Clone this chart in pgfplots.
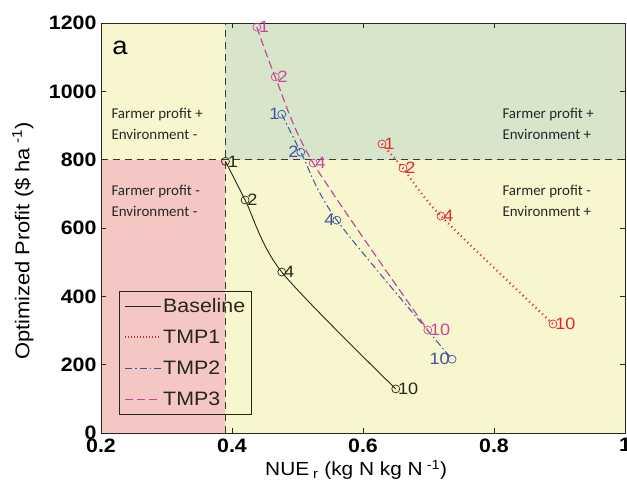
\documentclass[border=0pt]{standalone}
\usepackage{pgfplots}
\pgfplotsset{compat=1.18}
\usepackage{fontspec}
\setmainfont{Liberation Sans}[FakeStretch=1.1]
\newfontfamily\calfont{Carlito}
\definecolor{cbase}{HTML}{262619}
\definecolor{ctmpone}{HTML}{E3262B}
\definecolor{ctmptwo}{HTML}{3F51A3}
\definecolor{ctmpthree}{HTML}{C8479A}
\definecolor{bgred}{HTML}{F4C7C4}
\definecolor{bgyel}{HTML}{F8F6CE}
\definecolor{bggrn}{HTML}{D7E6CB}
\definecolor{cdash}{HTML}{3A3A30}
\begin{document}
\begin{tikzpicture}
\useasboundingbox (-101bp,-54bp) rectangle (526bp,433bp);
\begin{axis}[
  at={(0,0)}, anchor=south west,
  scale only axis, width=524bp, height=410bp,
  xmin=0.2, xmax=1, ymin=0, ymax=1200,
  xtick={0.2,0.4,0.6,0.8,1}, ytick={0,200,400,600,800,1000,1200},
  xticklabels={0.2,0.4,0.6,0.8,1},
  /pgf/number format/1000 sep={},
  /pgf/number format/assume math mode=true,
  tick align=inside, major tick length=5bp,
  tick style={cbase, line width=0.6pt},
  axis line style={cbase, line width=0.8pt},
  axis on top,
  tick label style={font=\fontsize{19.5}{22}\selectfont\bfseries},
  xticklabel style={yshift=-2bp},
  yticklabel style={xshift=-1bp},
  every axis y label/.style={at={(axis description cs:-0.149,0.468)}, rotate=90, anchor=center, font=\fontsize{20}{24}\selectfont},
  every axis x label/.style={at={(axis description cs:0.487,-0.09)}, anchor=center, font=\fontsize{19}{24}\selectfont},
  xlabel={NUE\textsubscript{ r} (kg N kg N\textsuperscript{ -1})},
  ylabel={Optimized Profit (\$ ha\textsuperscript{ -1})},
  legend style={at={(0.034,0.046)}, anchor=south west, draw=cbase, fill=none,
    font=\fontsize{19.5}{22}\selectfont, row sep=14bp, inner xsep=5bp, inner ysep=6bp,
    nodes={inner sep=1bp, text=cbase}},
  legend cell align=left,
  legend image code/.code={\draw[#1] (0bp,0bp) -- (36bp,0bp);},
  clip=false,
]
% background regions
\fill[bgred] (axis cs:0.2,0) rectangle (axis cs:0.39,800);
\fill[bgyel] (axis cs:0.2,800) rectangle (axis cs:0.39,1200);
\fill[bggrn] (axis cs:0.39,800) rectangle (axis cs:1,1200);
\fill[bgyel] (axis cs:0.39,0) rectangle (axis cs:1,800);
\draw[cdash, line width=0.8pt, dash pattern=on 7bp off 5bp] (axis cs:0.39,0) -- (axis cs:0.39,1200);
\draw[cdash, line width=0.8pt, dash pattern=on 7bp off 5bp] (axis cs:0.2,800) -- (axis cs:1,800);

% region texts
\node[anchor=west, align=left, font=\calfont\fontsize{15}{21.5}\selectfont, text=black!85] at (axis cs:0.2107,904) {Farmer profit +\\Environment -};
\node[anchor=west, align=left, font=\calfont\fontsize{15}{21.5}\selectfont, text=black!85] at (axis cs:0.2107,679) {Farmer profit -\\Environment -};
\node[anchor=west, align=left, font=\calfont\fontsize{15}{21.5}\selectfont, text=black!85] at (axis cs:0.8076,904) {Farmer profit +\\Environment +};
\node[anchor=west, align=left, font=\calfont\fontsize{15}{21.5}\selectfont, text=black!85] at (axis cs:0.8076,679) {Farmer profit -\\Environment +};
\node[font=\fontsize{25}{28}\selectfont, text=black] at (axis cs:0.229,1127) {a};

% Baseline
\addplot[cbase, line width=0.9pt, smooth, mark=o, mark size=4bp, mark options={solid, line width=0.7pt}, forget plot,
  point meta=explicit symbolic, nodes near coords,
  every node near coord/.append style={anchor=west, font=\fontsize{16.5}{18}\selectfont, text=cbase, inner sep=1bp, xshift=1bp}]
  table[meta=l] {
x y l
0.390 795 1
0.420 682 2
0.476 471 4
0.650 129 10
};
% TMP1
\addplot[ctmpone, line width=2.2pt, smooth, dash pattern=on 1bp off 3.5bp, mark=o, mark size=4bp, mark options={solid, line width=0.7pt}, forget plot,
  point meta=explicit symbolic, nodes near coords,
  every node near coord/.append style={anchor=west, font=\fontsize{16.5}{18}\selectfont, text=ctmpone, inner sep=1bp, xshift=1bp}]
  table[meta=l] {
x y l
0.629 846 1
0.661 775 2
0.719 635 4
0.890 319 10
};
% TMP2
\addplot[ctmptwo, line width=1pt, smooth, dash pattern=on 7bp off 3bp on 1.5bp off 3bp, mark=o, mark size=4bp, mark options={solid, line width=0.7pt}, forget plot,
  point meta=explicit symbolic, nodes near coords,
  every node near coord/.append style={anchor=east, font=\fontsize{16.5}{18}\selectfont, text=ctmptwo, inner sep=1bp, xshift=-1bp}]
  table[meta=l] {
x y l
0.476 933 1
0.505 822 2
0.560 623 4
0.736 216 10
};
% TMP3
\addplot[ctmpthree, line width=1.2pt, smooth, dash pattern=on 8bp off 4bp, mark=o, mark size=4bp, mark options={solid, line width=0.7pt}, forget plot,
  point meta=explicit symbolic, nodes near coords,
  every node near coord/.append style={anchor=west, font=\fontsize{16.5}{18}\selectfont, text=ctmpthree, inner sep=1bp, xshift=1bp}]
  table[meta=l] {
x y l
0.438 1188 1
0.466 1042 2
0.524 790 4
0.699 301 10
};

\addlegendimage{cbase, line width=0.9pt}
\addlegendentry{Baseline}
\addlegendimage{ctmpone, line width=2.2pt, dash pattern=on 1bp off 2bp}
\addlegendentry{TMP1}
\addlegendimage{ctmptwo, line width=0.9pt, dash pattern=on 7bp off 3bp on 1.5bp off 3bp}
\addlegendentry{TMP2}
\addlegendimage{ctmpthree, line width=1pt, dash pattern=on 8bp off 4bp}
\addlegendentry{TMP3}
\end{axis}
\end{tikzpicture}
\end{document}
